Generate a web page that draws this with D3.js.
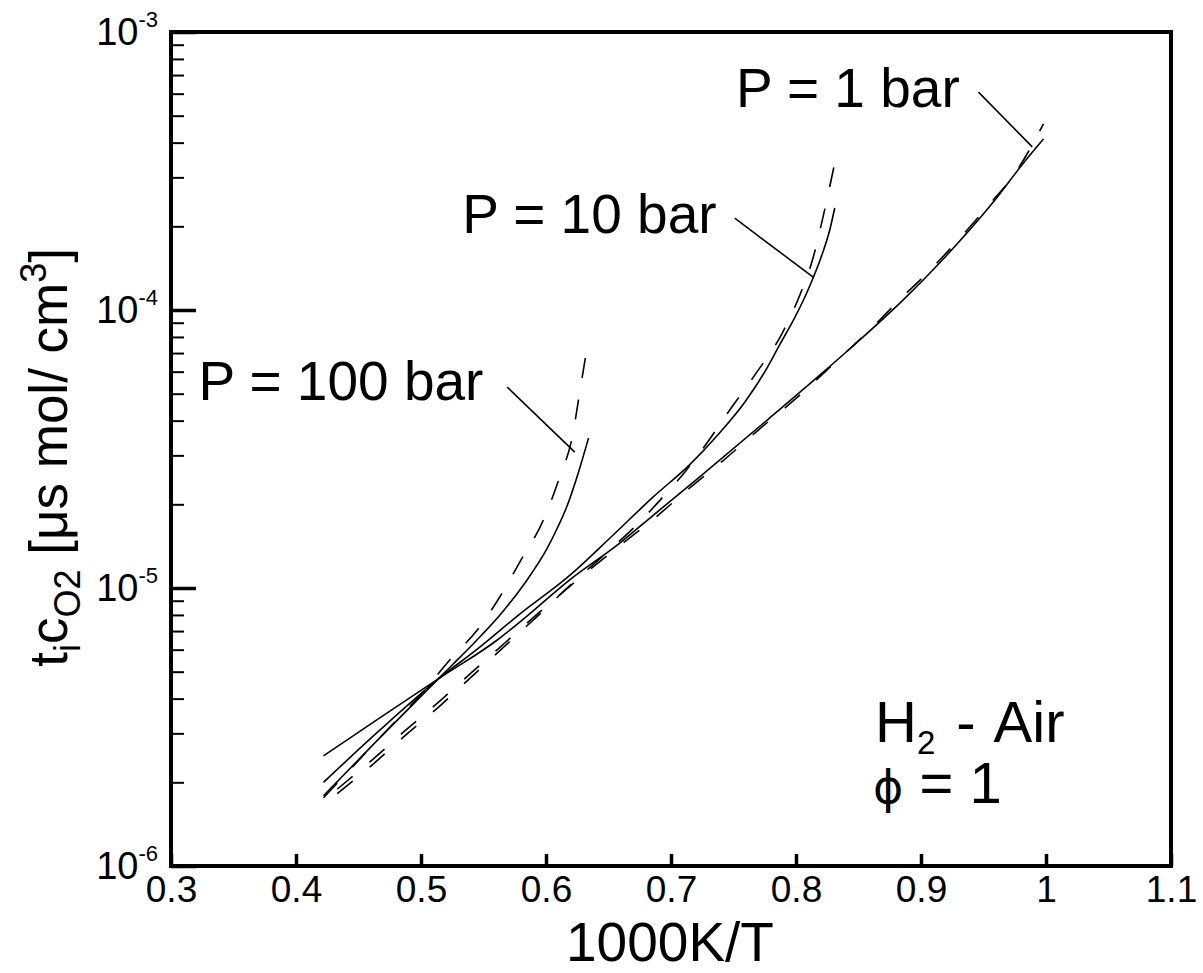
<!DOCTYPE html>
<html>
<head>
<meta charset="utf-8">
<script src="https://cdn.jsdelivr.net/npm/d3@7"></script>
<style>
  body { margin: 0; background: #fff; }
  text { font-family: "Liberation Sans", Arial, sans-serif; fill: #000; }
  .curve { fill: none; stroke: #000; stroke-width: 1.6; }
  .dashed { stroke-dasharray: 20 22; }
  .leader { stroke: #000; stroke-width: 1.6; }
</style>
</head>
<body>
<div id="main"></div>
<script>
let width = 1203,
    height = 973

// values: x = 1000K/T, y = t_i c_O2 [μs mol/cm³]
const p1SolidX = [0.422, 0.467, 0.515, 0.561, 0.579, 0.619, 0.659, 0.686, 0.723, 0.777, 0.819, 0.851, 0.886, 0.921, 0.958, 0.982, 0.998]
const p1SolidY = [2.49e-6, 3.41e-6, 4.75e-6, 6.50e-6, 7.54e-6, 1.07e-5, 1.45e-5, 1.83e-5, 2.51e-5, 4.02e-5, 5.83e-5, 7.80e-5, 1.09e-4, 1.58e-4, 2.45e-4, 3.38e-4, 4.12e-4]
const p1DashX = [0.433, 0.461, 0.487, 0.515, 0.541, 0.567, 0.595, 0.623, 0.659, 0.686, 0.715, 0.742, 0.769, 0.803, 0.835, 0.859, 0.883, 0.905, 0.929, 0.953, 0.977, 0.998]
const p1DashY = [1.89e-6, 2.41e-6, 3.06e-6, 3.92e-6, 4.99e-6, 6.34e-6, 8.20e-6, 1.05e-5, 1.42e-5, 1.77e-5, 2.29e-5, 2.88e-5, 3.67e-5, 4.94e-5, 6.72e-5, 8.47e-5, 1.09e-4, 1.36e-4, 1.77e-4, 2.35e-4, 3.19e-4, 4.67e-4]

const p10SolidX = [0.422, 0.467, 0.513, 0.547, 0.579, 0.619, 0.651, 0.686, 0.715, 0.739, 0.759, 0.775, 0.787, 0.799, 0.811, 0.821, 0.827, 0.831]
const p10SolidY = [2.00e-6, 3.08e-6, 4.67e-6, 6.13e-6, 8.06e-6, 1.11e-5, 1.51e-5, 2.13e-5, 2.78e-5, 3.62e-5, 4.66e-5, 5.99e-5, 7.51e-5, 9.38e-5, 1.22e-4, 1.59e-4, 1.94e-4, 2.33e-4]
const p10DashX = [0.433, 0.461, 0.487, 0.515, 0.541, 0.567, 0.595, 0.623, 0.651, 0.675, 0.695, 0.711, 0.727, 0.747, 0.767, 0.789, 0.803, 0.814, 0.822, 0.832]
const p10DashY = [1.82e-6, 2.31e-6, 2.94e-6, 3.76e-6, 4.82e-6, 6.18e-6, 8.06e-6, 1.06e-5, 1.37e-5, 1.73e-5, 2.16e-5, 2.61e-5, 3.24e-5, 4.37e-5, 5.83e-5, 8.26e-5, 1.13e-4, 1.56e-4, 2.20e-4, 3.55e-4]

const p100SolidX = [0.422, 0.467, 0.513, 0.526, 0.544, 0.563, 0.583, 0.601, 0.609, 0.617, 0.626, 0.634]
const p100SolidY = [1.79e-6, 2.89e-6, 4.67e-6, 5.34e-6, 6.45e-6, 7.98e-6, 1.04e-5, 1.39e-5, 1.64e-5, 1.98e-5, 2.61e-5, 3.46e-5]
const p100DashX = [0.422, 0.467, 0.503, 0.523, 0.545, 0.563, 0.579, 0.598, 0.611, 0.621, 0.627, 0.634]
const p100DashY = [1.76e-6, 2.89e-6, 4.30e-6, 5.51e-6, 7.06e-6, 9.28e-6, 1.24e-5, 1.76e-5, 2.51e-5, 3.49e-5, 5.07e-5, 7.87e-5]

const xTicks = [0.3, 0.4, 0.5, 0.6, 0.7, 0.8, 0.9, 1.0, 1.1]
const xTickLabels = ["0.3", "0.4", "0.5", "0.6", "0.7", "0.8", "0.9", "1", "1.1"]
const yTicks = [1e-6, 1e-5, 1e-4, 1e-3]
const yTickExps = ["-6", "-5", "-4", "-3"]

// pressure labels: text anchor and leader line (data coords)
const labelText = ["P = 1 bar", "P = 10 bar", "P = 100 bar"]
const labelPos = [[0.752, 5.37e-4], [0.533, 1.89e-4], [0.322, 4.75e-5]]
const leaderFrom = [[0.946, 6.08e-4], [0.751, 2.14e-4], [0.569, 5.28e-5]]
const leaderTo = [[0.989, 3.86e-4], [0.814, 1.31e-4], [0.623, 3.08e-5]]

const x = d3.scaleLinear().domain([0.3, 1.1]).range([171, 1171])
const y = d3.scaleLog().domain([1e-6, 1e-3]).range([866, 32])

var svg = d3.select("div#main")
    .append("svg")
    .attr("width", width)
    .attr("height", height)

svg.append("rect").attr("width", width).attr("height", height).attr("fill", "#fff")

// minor y ticks
let minor = []
yTicks.slice(0, 3).forEach(d => {
    for (let k = 2; k <= 9; k++) minor.push(d * k)
})
svg.append("g")
    .attr("transform", "translate(" + x(0.3) + ",0)")
    .call(d3.axisLeft(y).tickValues(minor).tickSize(-13).tickFormat(""))
    .call(g => g.select(".domain").remove())
    .call(g => g.selectAll("line").attr("stroke-width", 2))

// major y ticks
let yAxis = svg.append("g")
    .attr("transform", "translate(" + x(0.3) + ",0)")
    .call(d3.axisLeft(y).tickValues(yTicks).tickSize(-25).tickPadding(13).tickFormat(""))
    .call(g => g.select(".domain").remove())
    .call(g => g.selectAll("line").attr("stroke-width", 3.5))

yAxis.selectAll(".tick text")
    .attr("font-size", 38)
    .attr("dy", "0.34em")
    .attr("font-family", "'Liberation Sans', Arial, sans-serif")
    .each(function (d, i) {
        let t = d3.select(this)
        t.append("tspan").text("10")
        t.append("tspan").attr("font-size", 22).attr("dy", -18).text(yTickExps[i])
    })

// x axis
let xAxis = svg.append("g")
    .attr("transform", "translate(0," + y(1e-6) + ")")
    .call(d3.axisBottom(x).tickValues(xTicks).tickSize(-12).tickPadding(10).tickFormat((d, i) => xTickLabels[i]))
    .call(g => g.select(".domain").remove())
    .call(g => g.selectAll("line").attr("stroke-width", 3.5))
xAxis.selectAll(".tick text")
    .attr("font-size", 37)
    .attr("font-family", "'Liberation Sans', Arial, sans-serif")

// frame
svg.append("rect")
    .attr("x", x(0.3)).attr("y", y(1e-3))
    .attr("width", x(1.1) - x(0.3)).attr("height", y(1e-6) - y(1e-3))
    .attr("fill", "none").attr("stroke", "#000").attr("stroke-width", 4)

// curves
const line = d3.line()
    .x(d => x(d[0]))
    .y(d => y(d[1]))
    .curve(d3.curveMonotoneX)

const series = [
    [p1SolidX, p1SolidY, false], [p1DashX, p1DashY, true],
    [p10SolidX, p10SolidY, false], [p10DashX, p10DashY, true],
    [p100SolidX, p100SolidY, false], [p100DashX, p100DashY, true]
]

svg.selectAll(".curve")
    .data(series)
    .join("path")
    .attr("class", "curve")
    .classed("dashed", d => d[2])
    .attr("d", d => line(d3.zip(d[0], d[1])))

// leaders and labels
svg.selectAll(".leader")
    .data(labelText)
    .join("line")
    .attr("class", "leader")
    .attr("x1", (d, i) => x(leaderFrom[i][0]))
    .attr("y1", (d, i) => y(leaderFrom[i][1]))
    .attr("x2", (d, i) => x(leaderTo[i][0]))
    .attr("y2", (d, i) => y(leaderTo[i][1]))

svg.selectAll(".plabel")
    .data(labelText)
    .join("text")
    .attr("class", "plabel")
    .attr("x", (d, i) => x(labelPos[i][0]))
    .attr("y", (d, i) => y(labelPos[i][1]))
    .attr("font-size", 55)
    .text(d => d)

// H2 - Air, phi = 1
let h2 = svg.append("text")
    .attr("x", x(0.8632)).attr("y", y(2.79e-6))
    .attr("font-size", 58)
    .attr("word-spacing", 5)
h2.append("tspan").text("H")
h2.append("tspan").attr("font-size", 33).attr("dy", 12).text("2")
h2.append("tspan").attr("dy", -12).text(" - Air")

let phi = svg.append("text")
    .attr("x", x(0.8616)).attr("y", y(1.68e-6))
    .attr("font-size", 58)
phi.append("tspan").attr("font-family", "'DejaVu Sans', sans-serif").attr("font-size", 46).text("ϕ")
phi.append("tspan").text(" = 1")

// axis titles
svg.append("text")
    .attr("x", 670).attr("y", 961)
    .attr("text-anchor", "middle")
    .attr("font-size", 55)
    .text("1000K/T")

let yt = svg.append("text")
    .attr("transform", "translate(67,248) rotate(-90)")
    .attr("text-anchor", "end")
    .attr("font-size", 53)
yt.append("tspan").text("t")
yt.append("tspan").attr("font-size", 36).attr("dy", 13).text("i")
yt.append("tspan").attr("dy", -13).text("c")
yt.append("tspan").attr("font-size", 36).attr("dy", 13).text("O2")
yt.append("tspan").attr("dy", -13).text(" [μs mol/ cm")
yt.append("tspan").attr("font-size", 36).attr("dy", -21).text("3")
yt.append("tspan").attr("dy", 21).text("]")
</script>
</body>
</html>
